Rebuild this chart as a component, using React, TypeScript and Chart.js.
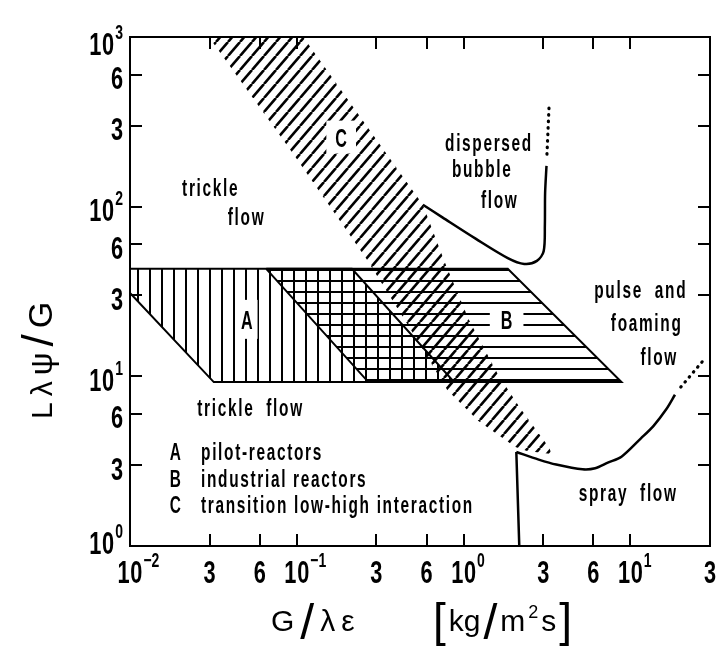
import React, { useEffect, useRef } from "react";
import { Chart, registerables } from "chart.js";

Chart.register(...registerables);

// ---------------- axes ----------------
const xRange = [0.01, 30];
const yRange = [1, 1000];
const xTickValues = [0.01, 0.03, 0.06, 0.1, 0.3, 0.6, 1, 3, 6, 10, 30];
const xTickLabels = ["10", "3", "6", "10", "3", "6", "10", "3", "6", "10", "3"];
const xTickExponents = ["\u22122", "", "", "\u22121", "", "", "0", "", "", "1", ""];
const yTickValues = [1, 3, 6, 10, 30, 60, 100, 300, 600, 1000];
const yTickLabels = ["10", "3", "6", "10", "3", "6", "10", "3", "6", "10"];
const yTickExponents = ["0", "", "", "1", "", "", "2", "", "", "3"];

// ---------------- regions ----------------
// A: pilot reactors (vertical hatching)
const pilotX = [0.01, 0.214, 0.877, 0.0318, 0.01, 0.01];
const pilotY = [43, 43, 9.25, 9.25, 31, 43];
// B: industrial reactors (horizontal hatching)
const industrialX = [0.0656, 1.84, 8.84, 0.2685, 0.0656];
const industrialY = [43, 43, 9.25, 9.25, 43];
// C: transition low-high interaction (diagonal hatching)
const transitionX = [0.0297, 0.0955, 0.2617, 0.479, 0.798, 1.227, 2.044, 2.401, 3.36, 3.27, 2.186, 1.605, 1.072, 0.766, 0.57, 0.1093];
const transitionY = [1000, 203.5, 49.1, 19.05, 8.32, 5.46, 3.83, 3.63, 3.49, 3.78, 6.48, 10.27, 21.7, 47.9, 102.7, 1000];

// ---------------- flow-regime boundaries ----------------
const bubbleX = [0.57, 0.746, 1.18, 1.84, 2.31, 2.75, 3.02, 3.07, 3.08, 3.14];
const bubbleY = [102.7, 86.5, 64.8, 49.8, 46, 47.9, 54.7, 77.9, 120, 174];
const bubbleDotX = [3.16, 3.25];
const bubbleDotY = [204, 383];
const sprayWallX = [2.157, 2.07];
const sprayWallY = [1, 3.58];
const sprayX = [2.07, 2.82, 3.59, 5.16, 6.15, 7.32, 8.84, 11.56, 13.77, 16.4, 18.5];
const sprayY = [3.58, 3.23, 3.02, 2.83, 2.87, 3.1, 3.36, 4.31, 5.11, 6.39, 7.79];
const sprayDotX = [20.05, 28.1];
const sprayDotY = [8.65, 12.8];

// ---------------- texts ----------------
const flowLabels = ["trickle", "flow", "dispersed", "bubble", "flow", "pulse  and", "foaming", "flow", "trickle  flow", "spray  flow"];
const flowLabelX = [0.0301, 0.0494, 1.403, 1.277, 1.626, 11.4, 12.37, 14.72, 0.0522, 9.58];
const flowLabelY = [115.6, 77.9, 211.7, 150.3, 98.7, 29.0, 18.56, 11.71, 5.83, 1.832];
const regionLetters = ["A", "B", "C"];
const regionLetterX = [0.0501, 1.811, 0.1845];
const regionLetterY = [19.05, 19.05, 226];
const legendKeys = ["A", "B", "C"];
const legendTexts = ["pilot-reactors", "industrial reactors", "transition low-high interaction"];
const legendKeyX = [0.01734, 0.01734, 0.01734];
const legendTextX = [0.02667, 0.02667, 0.02667];
const legendY = [3.226, 2.232, 1.564];

const FONT = '"Liberation Sans", Arial, Helvetica, sans-serif';

type TxtOpt = { size: number; weight?: string; scaleX?: number; spacing?: number; align?: "left" | "center" | "right" };

function drawText(ctx: CanvasRenderingContext2D, text: string, x: number, y: number, o: TxtOpt): number {
  const sx = o.scaleX ?? 1;
  const sp = o.spacing ?? 0;
  ctx.save();
  ctx.font = `${o.weight ?? "bold"} ${o.size}px ${FONT}`;
  (ctx as any).letterSpacing = "0px";
  const base = ctx.measureText(text).width;
  const n = Array.from(text).length;
  const w = (base + sp * (n - 1)) * sx;
  let left = x;
  if (o.align === "center") left = x - w / 2;
  else if (o.align === "right") left = x - w;
  ctx.translate(left, y);
  ctx.scale(sx, 1);
  (ctx as any).letterSpacing = `${sp}px`;
  ctx.textAlign = "left";
  ctx.textBaseline = "alphabetic";
  ctx.fillStyle = "#000";
  ctx.fillText(text, 0, 0);
  ctx.restore();
  return w;
}

type Run = { t: string; s: number; dy?: number };

function drawRuns(ctx: CanvasRenderingContext2D, runs: Run[], x: number, y: number, spacing: number, align: "left" | "center") {
  ctx.save();
  ctx.fillStyle = "#000";
  ctx.textAlign = "left";
  ctx.textBaseline = "alphabetic";
  const widths = runs.map((r) => {
    ctx.font = `normal ${r.s}px ${FONT}`;
    return ctx.measureText(r.t).width;
  });
  const total = widths.reduce((a, b) => a + b, 0) + spacing * (runs.length - 1);
  let cx = align === "center" ? x - total / 2 : x;
  runs.forEach((r, i) => {
    ctx.font = `normal ${r.s}px ${FONT}`;
    ctx.fillText(r.t, cx, y + (r.dy ?? 0));
    cx += widths[i] + spacing;
  });
  ctx.restore();
}

const yTitleRuns: Run[] = [
  { t: "L", s: 30 },
  { t: "\u03bb", s: 30 },
  { t: "\u03c8", s: 32 },
  { t: "/", s: 44, dy: 1 },
  { t: "G", s: 34 },
];
const xTitleRuns: Run[] = [
  { t: "G", s: 30 },
  { t: "/", s: 50, dy: 8 },
  { t: "\u03bb", s: 30 },
  { t: "\u03b5", s: 30 },
];
const xUnitRuns: Run[] = [
  { t: "[", s: 46, dy: 5 },
  { t: "kg", s: 30 },
  { t: "/", s: 50, dy: 8 },
  { t: "m", s: 30 },
  { t: "2", s: 18, dy: -13 },
  { t: "s", s: 30 },
  { t: "]", s: 46, dy: 5 },
];

function makePattern(kind: "v" | "h" | "d"): CanvasPattern | string {
  const c = document.createElement("canvas");
  const g = c.getContext("2d");
  if (!g) return "rgba(0,0,0,0.3)";
  if (kind === "v") {
    c.width = 12;
    c.height = 12;
    g.fillStyle = "#000";
    g.fillRect(5, 0, 2, 12);
  } else if (kind === "h") {
    c.width = 11;
    c.height = 11;
    g.fillStyle = "#000";
    g.fillRect(0, 5, 11, 2);
  } else {
    c.width = 12;
    c.height = 14;
    g.strokeStyle = "#000";
    g.lineWidth = 2.6;
    for (const dx of [-12, 0, 12]) {
      g.beginPath();
      g.moveTo(dx, 14);
      g.lineTo(dx + 12, 0);
      g.stroke();
    }
  }
  return g.createPattern(c, "repeat") || "rgba(0,0,0,0.3)";
}

const toXY = (xs: number[], ys: number[]) => xs.map((x, i) => ({ x, y: ys[i] }));

const letterPads = [
  { px: 5, py: 10 },
  { px: 11, py: 3 },
  { px: 9, py: 7 },
];

const labelPlugin = {
  id: "diagramText",
  afterDatasetsDraw(chart: any) {
    const { ctx, scales } = chart;
    const xs = scales.x;
    const ys = scales.y;
    regionLetters.forEach((t, i) => {
      const px = xs.getPixelForValue(regionLetterX[i]);
      const py = ys.getPixelForValue(regionLetterY[i]);
      ctx.save();
      ctx.font = `bold 26px ${FONT}`;
      const w = ctx.measureText(t).width * 0.62;
      const h = 26 * 0.73;
      const p = letterPads[i];
      ctx.fillStyle = "#fff";
      ctx.fillRect(px - w / 2 - p.px, py - h - p.py, w + 2 * p.px, h + 2 * p.py);
      ctx.restore();
      drawText(ctx, t, px, py, { size: 26, scaleX: 0.62, align: "center" });
    });
  },
  afterDraw(chart: any) {
    const { ctx, chartArea: a, scales } = chart;
    const xs = scales.x;
    const ys = scales.y;
    const L = 12;
    ctx.save();
    ctx.strokeStyle = "#000";
    ctx.lineWidth = 2;
    ctx.beginPath();
    xTickValues.forEach((v) => {
      const px = Math.round(xs.getPixelForValue(v));
      if (px <= a.left + 2 || px >= a.right - 2) return;
      ctx.moveTo(px, a.bottom);
      ctx.lineTo(px, a.bottom - L);
      ctx.moveTo(px, a.top);
      ctx.lineTo(px, a.top + L);
    });
    yTickValues.forEach((v) => {
      const py = Math.round(ys.getPixelForValue(v));
      if (py <= a.top + 2 || py >= a.bottom - 2) return;
      ctx.moveTo(a.left, py);
      ctx.lineTo(a.left + L, py);
      ctx.moveTo(a.right, py);
      ctx.lineTo(a.right - L, py);
    });
    ctx.stroke();
    ctx.restore();

    // x tick labels
    xTickValues.forEach((v, i) => {
      const px = xs.getPixelForValue(v);
      const base = a.bottom + 37;
      const mw = drawText(ctx, xTickLabels[i], px, base, { size: 32, scaleX: 0.68, spacing: 1, align: "center" });
      if (xTickExponents[i]) {
        drawText(ctx, xTickExponents[i], px + mw / 2 + 1, base - 16, { size: 20, scaleX: 0.7 });
      }
    });
    // y tick labels
    yTickValues.forEach((v, i) => {
      const py = ys.getPixelForValue(v);
      const cy = Math.min(Math.max(py + 3, a.top + 6), a.bottom - 4);
      const base = cy + 11.5;
      let r = a.left - 7;
      if (yTickExponents[i]) {
        const ew = drawText(ctx, yTickExponents[i], r, base - 16, { size: 20, scaleX: 0.7, align: "right" });
        r -= ew + 1;
      }
      drawText(ctx, yTickLabels[i], r, base, { size: 32, scaleX: 0.68, spacing: 1, align: "right" });
    });

    // flow regime labels
    flowLabels.forEach((t, i) => {
      drawText(ctx, t, xs.getPixelForValue(flowLabelX[i]), ys.getPixelForValue(flowLabelY[i]), {
        size: 23,
        scaleX: 0.67,
        spacing: 2.5,
        align: "center",
      });
    });
    // legend
    legendKeys.forEach((k, i) => {
      const py = ys.getPixelForValue(legendY[i]);
      drawText(ctx, k, xs.getPixelForValue(legendKeyX[i]), py, { size: 23, scaleX: 0.67, spacing: 2.5 });
      drawText(ctx, legendTexts[i], xs.getPixelForValue(legendTextX[i]), py, { size: 23, scaleX: 0.67, spacing: 2.5 });
    });

    // axis titles
    ctx.save();
    ctx.translate(a.left - 78, a.bottom - 127);
    ctx.rotate(-Math.PI / 2);
    drawRuns(ctx, yTitleRuns, 0, 0, 6, "left");
    ctx.restore();
    drawRuns(ctx, xTitleRuns, a.left + 141, a.bottom + 85, 6, "left");
    drawRuns(ctx, xUnitRuns, a.left + 303, a.bottom + 85, 3, "left");
  },
};

export default function App() {
  const ref = useRef<HTMLCanvasElement | null>(null);
  useEffect(() => {
    const canvas = ref.current;
    if (!canvas) return;
    const patV = makePattern("v");
    const patH = makePattern("h");
    const patD = makePattern("d");
    const lineBase = { pointRadius: 0, borderColor: "#000", fill: false, showLine: true };
    const axisCommon = {
      type: "logarithmic" as const,
      grid: { display: false },
      ticks: { display: false },
      border: { display: true, color: "#000", width: 2 },
      title: { display: false },
    };
    const chart = new Chart(canvas, {
      type: "line",
      data: {
        datasets: [
          { ...lineBase, label: "spray wall", data: toXY(sprayWallX, sprayWallY), borderWidth: 2.5, tension: 0 },
          { ...lineBase, label: "spray boundary", data: toXY(sprayX, sprayY), borderWidth: 2.5, tension: 0.3 },
          {
            ...lineBase,
            label: "spray dotted",
            data: toXY(sprayDotX, sprayDotY),
            borderWidth: 3.2,
            borderDash: [0.5, 6],
            borderCapStyle: "round",
            tension: 0,
          },
          { ...lineBase, label: "bubble boundary", data: toXY(bubbleX, bubbleY), borderWidth: 2.5, tension: 0.3 },
          {
            ...lineBase,
            label: "bubble dotted",
            data: toXY(bubbleDotX, bubbleDotY),
            borderWidth: 3.2,
            borderDash: [0.5, 6],
            borderCapStyle: "round",
            tension: 0,
          },
          {
            ...lineBase,
            label: "A pilot-reactors",
            data: toXY(pilotX, pilotY),
            fill: "shape",
            backgroundColor: patV,
            borderWidth: 2,
            tension: 0,
          },
          {
            ...lineBase,
            label: "B industrial reactors",
            data: toXY(industrialX, industrialY),
            fill: "shape",
            backgroundColor: patH,
            borderWidth: 2,
            tension: 0,
          },
          {
            ...lineBase,
            label: "C transition",
            data: toXY(transitionX, transitionY),
            fill: "shape",
            backgroundColor: patD,
            borderColor: "rgba(0,0,0,0)",
            borderWidth: 1,
            tension: 0,
          },
        ] as any,
      },
      options: {
        animation: false,
        responsive: false,
        devicePixelRatio: 1,
        events: [],
        layout: { padding: { left: 122, top: 29, right: 7, bottom: 104 } },
        plugins: { legend: { display: false }, tooltip: { enabled: false } },
        scales: {
          x: { ...axisCommon, axis: "x", position: "bottom", min: xRange[0], max: xRange[1] },
          x2: { ...axisCommon, axis: "x", position: "top", min: xRange[0], max: xRange[1] },
          y: { ...axisCommon, axis: "y", position: "left", min: yRange[0], max: yRange[1] },
          y2: { ...axisCommon, axis: "y", position: "right", min: yRange[0], max: yRange[1] },
        } as any,
      },
      plugins: [labelPlugin],
    });
    return () => chart.destroy();
  }, []);
  return (
    <div style={{ position: "absolute", left: 0, top: 0, width: 725, height: 658, background: "#fff" }}>
      <canvas ref={ref} width={725} height={658} style={{ display: "block" }} />
    </div>
  );
}
